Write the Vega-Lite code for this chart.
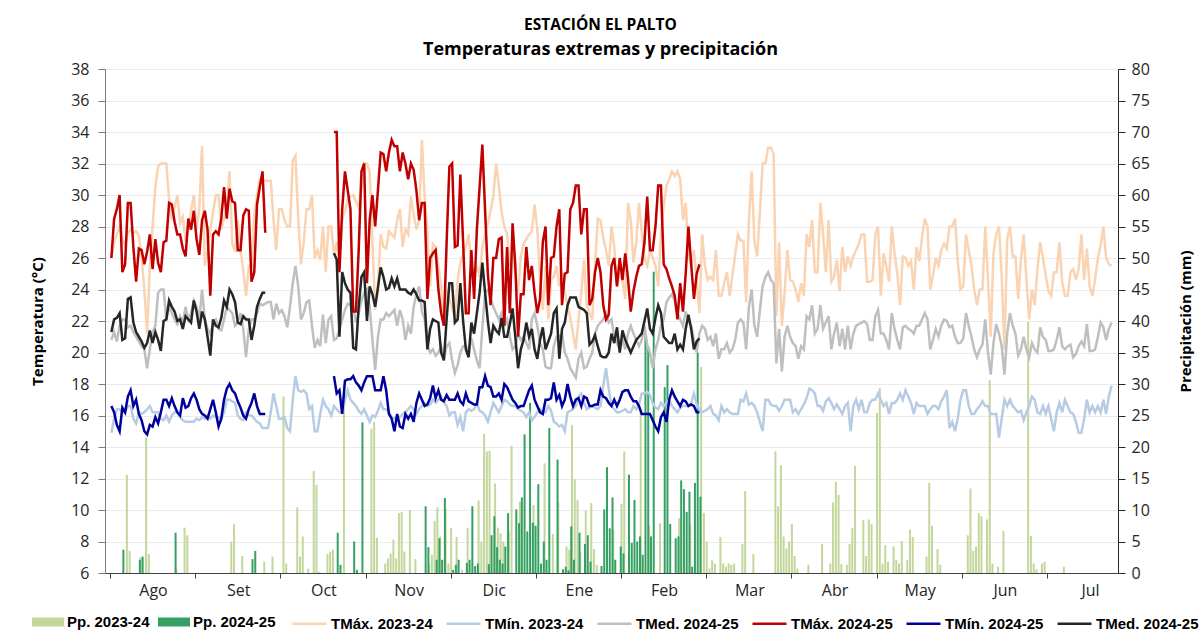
{
"$schema": "https://vega.github.io/schema/vega-lite/v6.json",
"width": 1013, "height": 504,
"autosize": {"type": "none"},
"padding": {"left": 105, "top": 69, "right": 82, "bottom": 69},
"background": "white",
"title": {"text": "ESTACIÓN EL PALTO", "subtitle": "Temperaturas extremas y precipitación", "anchor": "middle", "dx": -11, "font": "Open Sans", "fontSize": 15.5, "fontWeight": "bold", "color": "#000000", "subtitleFont": "Open Sans", "subtitleFontSize": 18, "subtitleFontWeight": "bold", "subtitleColor": "#000000", "subtitlePadding": 8, "offset": 2},
"data": {"values": [
{"d":1,"a":26,"b":14.9,"c":20.8,"e":26,"f":16.6,"g":21.3},
{"d":2,"a":27,"b":15.8,"c":21.3,"e":28.5,"f":16.2,"g":22.1},
{"d":3,"a":27.5,"b":16.4,"c":20.7,"e":29.1,"f":15.4,"g":22.2},
{"d":4,"a":28,"b":16.4,"c":21.7,"e":30,"f":15,"g":22.5},
{"d":5,"a":27.2,"b":16.2,"c":22.1,"e":25.1,"f":16.5,"g":20.8,"q":3.7},
{"d":6,"a":26.8,"b":16.2,"c":22.1,"e":25.6,"f":16.2,"g":20.9},
{"d":7,"a":27.6,"b":16.6,"c":21.6,"e":29.5,"f":17.2,"g":23.4,"p":15.6},
{"d":8,"a":27.8,"b":16.6,"c":21.7,"e":29.5,"f":17.6,"g":23.5,"p":3.5},
{"d":9,"a":27.6,"b":15.8,"c":21.3,"e":26.7,"f":16.6,"g":21.9},
{"d":10,"a":27.7,"b":15.5,"c":21,"e":24.5,"f":17,"g":21.3},
{"d":11,"a":27.4,"b":16.2,"c":20.7,"e":26.6,"f":16.1,"g":21,"q":2.1},
{"d":12,"a":26,"b":16.1,"c":20.4,"e":26.5,"f":15.7,"g":20.7,"p":2.5,"q":2.6},
{"d":13,"a":24,"b":16.2,"c":20.2,"e":25.6,"f":15,"g":20.3},
{"d":14,"a":21.2,"b":16.4,"c":19,"e":26.4,"f":14.8,"g":20.6,"p":21.5},
{"d":15,"a":25.5,"b":16.6,"c":20.2,"e":27.5,"f":15.4,"g":21.4,"p":3},
{"d":16,"a":28,"b":16.2,"c":21.3,"e":25.3,"f":15.3,"g":20.6},
{"d":17,"a":30.5,"b":16.2,"c":21.7,"e":27.2,"f":15.9,"g":21.3},
{"d":18,"a":31.8,"b":16.2,"c":23.8,"e":25.7,"f":15.5,"g":20.8},
{"d":19,"a":32,"b":15.8,"c":24,"e":25.1,"f":16.2,"g":20.1},
{"d":20,"a":32,"b":15.7,"c":24,"e":27,"f":17,"g":22},
{"d":21,"a":32,"b":16,"c":22.1,"e":27.1,"f":17,"g":22.1},
{"d":22,"a":29.7,"b":15.6,"c":22.9,"e":29.5,"f":16.6,"g":23.3},
{"d":23,"a":28.4,"b":16,"c":22.5,"e":29.4,"f":17.1,"g":22.9},
{"d":24,"a":29.2,"b":16.2,"c":22.1,"e":28.3,"f":16.6,"g":22.6,"q":6.4},
{"d":25,"a":30,"b":16.2,"c":21.8,"e":27.5,"f":16.2,"g":22,"p":0.7},
{"d":26,"a":28.2,"b":15.9,"c":22.3,"e":27.5,"f":16,"g":22.1},
{"d":27,"a":28.6,"b":15.7,"c":21.9,"e":26.6,"f":17.1,"g":21.5},
{"d":28,"a":27.1,"b":15.6,"c":22.9,"e":26.1,"f":16.5,"g":22.3,"p":7.2},
{"d":29,"a":27.8,"b":15.6,"c":22.1,"e":28.5,"f":16.6,"g":22.1,"p":6},
{"d":30,"a":29,"b":15.6,"c":22.5,"e":27.8,"f":17.1,"g":21.9},
{"d":31,"a":30,"b":15.6,"c":23.3,"e":29,"f":17.4,"g":23.3},
{"d":32,"a":27.8,"b":15.8,"c":22.9,"e":27.2,"f":17,"g":22.6},
{"d":33,"a":29.1,"b":15.7,"c":22.1,"e":26.2,"f":16.4,"g":21.5},
{"d":34,"a":33.1,"b":15.9,"c":24,"e":28.4,"f":16.1,"g":22.6},
{"d":35,"a":25.5,"b":15.8,"c":22.1,"e":29,"f":16,"g":22.1},
{"d":36,"a":26.5,"b":16,"c":21.5,"e":27.8,"f":15.8,"g":21},
{"d":37,"a":27.8,"b":15.8,"c":21.2,"e":23.6,"f":16.4,"g":19.8},
{"d":38,"a":28.9,"b":16,"c":21.9,"e":27.5,"f":17,"g":22.1},
{"d":39,"a":30,"b":15.9,"c":22.1,"e":27.7,"f":16.2,"g":21.7},
{"d":40,"a":30,"b":15.9,"c":21.5,"e":27.5,"f":15.3,"g":21.6},
{"d":41,"a":27.8,"b":15.8,"c":21.4,"e":28.5,"f":15.8,"g":22.2},
{"d":42,"a":28.5,"b":16.2,"c":22.1,"e":30.5,"f":17,"g":23.3},
{"d":43,"a":29.3,"b":17,"c":22.9,"e":28.5,"f":17.7,"g":22.9},
{"d":44,"a":31.5,"b":17,"c":22.7,"e":30.4,"f":18,"g":24},
{"d":45,"a":26.9,"b":16.9,"c":22.5,"e":29.6,"f":17.6,"g":23.7,"p":5},
{"d":46,"a":26.4,"b":16.8,"c":21.7,"e":29.5,"f":17.4,"g":23.2,"p":7.8},
{"d":47,"a":28.4,"b":16,"c":21.9,"e":26.5,"f":16.9,"g":21.9},
{"d":48,"a":26.5,"b":15.8,"c":22.5,"e":26.5,"f":16.5,"g":21.8},
{"d":49,"a":25.2,"b":15.7,"c":21.5,"e":28.7,"f":16,"g":22.3,"p":2.7},
{"d":50,"a":23.6,"b":16.2,"c":19.7,"e":29.1,"f":15.8,"g":22.1},
{"d":51,"a":25.5,"b":16,"c":21.5,"e":29,"f":16.4,"g":22.1},
{"d":52,"a":25.5,"b":16,"c":22.1,"e":24.5,"f":16.8,"g":20.8,"q":2.2},
{"d":53,"a":28.7,"b":15.8,"c":22.1,"e":25.1,"f":17.4,"g":21.7,"q":3.5},
{"d":54,"a":30,"b":15.6,"c":22.5,"e":29.4,"f":16.6,"g":22.9},
{"d":55,"a":31,"b":15.5,"c":23.1,"e":30.5,"f":16.1,"g":23.4},
{"d":56,"a":31,"b":15.2,"c":23,"e":31.5,"f":16.1,"g":23.8},
{"d":57,"a":30.9,"b":15.2,"c":23.1,"e":27.6,"f":16.1,"g":23.8,"p":1.8},
{"d":58,"a":30.9,"b":15.2,"c":23.2},
{"d":59,"a":30.9,"b":16.2,"c":23.2},
{"d":60,"a":28.4,"b":17.4,"c":22.1,"p":2.6},
{"d":61,"a":26.5,"b":16.6,"c":23.1},
{"d":62,"a":29.1,"b":15.8,"c":22.5},
{"d":63,"a":29.1,"b":15.8,"c":22.7},
{"d":64,"a":28.4,"b":15.9,"c":22.3,"p":28},
{"d":65,"a":28,"b":15.2,"c":21.6,"p":1.5},
{"d":66,"a":28,"b":15,"c":22.9},
{"d":67,"a":32.2,"b":17,"c":24.4},
{"d":68,"a":32.5,"b":18.5,"c":25.5},
{"d":69,"a":28.5,"b":17.6,"c":24.2,"p":10.4},
{"d":70,"a":25.6,"b":17.5,"c":22.1,"p":2.6},
{"d":71,"a":27,"b":17.6,"c":22.5,"p":5.8},
{"d":72,"a":29.1,"b":17.4,"c":23.2},
{"d":73,"a":29.1,"b":16.4,"c":23.3,"p":0.7},
{"d":74,"a":30,"b":16.6,"c":21.7},
{"d":75,"a":26,"b":15,"c":20.3,"p":16.2},
{"d":76,"a":26.5,"b":15,"c":20.8,"p":14},
{"d":77,"a":25.9,"b":16.1,"c":20.4,"p":0.2},
{"d":78,"a":28,"b":17,"c":22.4},
{"d":79,"a":25.1,"b":16.6,"c":20.6},
{"d":80,"a":28,"b":16.4,"c":22.1,"p":3},
{"d":81,"a":28,"b":16,"c":22.3,"p":3.4},
{"d":82,"a":26.2,"b":16.6,"c":20.8,"e":34,"f":18.5,"g":26.3,"p":3.7},
{"d":83,"a":27,"b":16.4,"c":20.9,"e":34,"f":17.4,"g":25.9,"q":6.4},
{"d":84,"a":25.5,"b":16.2,"c":21.5,"e":25.1,"f":17.6,"g":21,"q":1.3},
{"d":85,"a":28.4,"b":16.2,"c":22.1,"e":29.1,"f":16.1,"g":25.1},
{"d":86,"a":29,"b":17,"c":22.7,"e":31.5,"f":18.2,"g":24.4,"p":30},
{"d":87,"a":29.7,"b":17.6,"c":23.1,"e":30.3,"f":18.3,"g":24},
{"d":88,"a":29.9,"b":17,"c":23,"e":29.1,"f":18.3,"g":23.8},
{"d":89,"a":30,"b":16.8,"c":22.9,"e":22.6,"f":18.5,"g":20.3,"q":5},
{"d":90,"a":29.6,"b":16.6,"c":21.9,"e":22.6,"f":18.1,"g":20.2,"q":0.5},
{"d":91,"a":29.2,"b":16.3,"c":22.5,"e":26.5,"f":17.9,"g":22.9},
{"d":92,"a":30.5,"b":16.1,"c":23.3,"e":31.5,"f":17.6,"g":24.8,"q":23.9},
{"d":93,"a":32,"b":16.4,"c":23.8,"e":32,"f":18.1,"g":25.1},
{"d":94,"a":32,"b":16,"c":24,"e":24.4,"f":18.5,"g":22},
{"d":95,"a":31.5,"b":15.6,"c":22.9,"e":28.4,"f":18.5,"g":24.2},
{"d":96,"a":27,"b":16,"c":20.8,"e":30,"f":18.5,"g":23.7,"p":22.9},
{"d":97,"a":22.7,"b":15.9,"c":18.9,"e":28,"f":17.6,"g":22.9,"p":24},
{"d":98,"a":24.2,"b":16.3,"c":21,"e":30.3,"f":17.6,"g":24.1,"p":5.6},
{"d":99,"a":27.5,"b":16.8,"c":22.1,"e":32.7,"f":17.6,"g":25.4},
{"d":100,"a":26.7,"b":16.4,"c":22.1,"e":32.6,"f":18.5,"g":24.8},
{"d":101,"a":26.6,"b":16.4,"c":22.5,"e":31.5,"f":17.6,"g":24,"p":1.5},
{"d":102,"a":27.7,"b":16.2,"c":22.3,"e":32.7,"f":16.1,"g":24.1,"p":2.3},
{"d":103,"a":27.5,"b":15.9,"c":22.5,"e":33.5,"f":15.8,"g":24.7,"p":3.1},
{"d":104,"a":27.3,"b":15.8,"c":22.7,"e":33.1,"f":15,"g":24.2,"p":5.3},
{"d":105,"a":28.4,"b":15.9,"c":21.7,"e":33.1,"f":16.1,"g":24.7,"p":2.3},
{"d":106,"a":29.1,"b":15.9,"c":22.7,"e":31.5,"f":15.3,"g":24,"p":9.5},
{"d":107,"a":26.7,"b":16.1,"c":22.1,"e":32.7,"f":15.2,"g":24,"p":9.7},
{"d":108,"a":27.8,"b":16.2,"c":20.8,"e":32,"f":16.1,"g":24,"p":3.4},
{"d":109,"a":27.5,"b":16.4,"c":21.7,"e":31,"f":15.8,"g":23.8},
{"d":110,"a":29.9,"b":16.6,"c":21.2,"e":32,"f":16.1,"g":23.7,"p":10},
{"d":111,"a":28.8,"b":16.4,"c":22.9,"e":31.6,"f":15.6,"g":24},
{"d":112,"a":27.8,"b":16.1,"c":23.7,"e":30.3,"f":16.8,"g":23.7,"p":2.2},
{"d":113,"a":28.4,"b":16.4,"c":24.2,"e":28.4,"f":17.4,"g":23.3},
{"d":114,"a":33.5,"b":16.6,"c":22.6,"e":29.5,"f":17,"g":23.3},
{"d":115,"a":29.9,"b":16.8,"c":22.1,"e":29.5,"f":16.6,"g":23.2,"q":10.6},
{"d":116,"a":27.8,"b":16.6,"c":20.5,"e":23.4,"f":16.7,"g":20.2,"q":4.1},
{"d":117,"a":24.2,"b":16.7,"c":20,"e":26,"f":17.1,"g":21.5,"p":1.5},
{"d":118,"a":26.9,"b":17,"c":20.2,"e":26.3,"f":17.9,"g":22.1,"p":2.9},
{"d":119,"a":26.7,"b":16.8,"c":19.8,"e":26.5,"f":17.1,"g":22,"p":8.3,"q":2.1},
{"d":120,"a":25.5,"b":17,"c":20,"e":24,"f":17.6,"g":21.9,"p":10.4,"q":5.5},
{"d":121,"a":24.2,"b":17.2,"c":20.4,"e":22.5,"f":17,"g":20,"p":5.8,"q":2.1},
{"d":122,"a":22.1,"b":16.8,"c":19.6,"e":21.7,"f":16.9,"g":19.5,"q":11.9},
{"d":123,"a":23.8,"b":16.6,"c":20.4,"e":27,"f":17.3,"g":22.1,"p":10.3},
{"d":124,"a":23.4,"b":16,"c":20.6,"e":31.8,"f":17,"g":24.4,"p":1.5},
{"d":125,"a":22.8,"b":16.2,"c":19.5,"e":32,"f":17,"g":24.4,"p":7.1,"q":0.5},
{"d":126,"a":22.3,"b":16.2,"c":18.7,"e":26.7,"f":17,"g":21.9,"q":1.3},
{"d":127,"a":24.6,"b":15.4,"c":19.2,"e":26.8,"f":17.4,"g":22.1,"p":5.7,"q":2.1},
{"d":128,"a":25.7,"b":15.9,"c":20,"e":31.3,"f":16.9,"g":24.4},
{"d":129,"a":26.2,"b":15,"c":20.4,"e":27,"f":16.7,"g":22,"p":0.5},
{"d":130,"a":26.7,"b":16.2,"c":20.4,"e":22.5,"f":17.4,"g":20.2,"q":1.6},
{"d":131,"a":27.5,"b":16.4,"c":20,"e":22.5,"f":16.9,"g":19.7,"p":7.1,"q":2.1},
{"d":132,"a":25.5,"b":16.3,"c":20.9,"e":26.5,"f":16.8,"g":21.9,"q":10.6},
{"d":133,"a":24.8,"b":16.4,"c":20.2,"e":23.4,"f":16.7,"g":21.2,"q":1.1},
{"d":134,"a":25.5,"b":16.8,"c":19.5,"e":27.8,"f":16.7,"g":22.5,"q":1.5},
{"d":135,"a":24.8,"b":16.3,"c":19,"e":30.5,"f":17.8,"g":23.8,"p":11.5},
{"d":136,"a":26.7,"b":16.2,"c":21.6,"e":33.2,"f":17.8,"g":25.7,"p":5},
{"d":137,"a":27.5,"b":16,"c":23.8,"e":29,"f":18.5,"g":23.8,"p":22.1},
{"d":138,"a":28.2,"b":15.6,"c":24,"e":25,"f":17.9,"g":22,"p":19.3,"q":1.4},
{"d":139,"a":29,"b":16.2,"c":23.5,"e":23,"f":17.8,"g":20.6,"p":19.4,"q":6},
{"d":140,"a":29.9,"b":16.8,"c":22.9,"e":26,"f":17.2,"g":21.7,"q":9},
{"d":141,"a":32,"b":16.5,"c":22.5,"e":26,"f":17.2,"g":21.4,"p":14.2,"q":4.1},
{"d":142,"a":30.6,"b":16.2,"c":22.1,"e":27.2,"f":17.4,"g":21.2,"p":7.2,"q":2.1},
{"d":143,"a":28.9,"b":16.6,"c":22.5,"e":27.3,"f":17,"g":22.2,"p":6.3,"q":1.5},
{"d":144,"a":28,"b":17,"c":21.7,"e":21.7,"f":18,"g":21,"p":5,"q":4.2},
{"d":145,"a":27.5,"b":16.9,"c":22.1,"e":26.7,"f":17.8,"g":21,"q":9.5},
{"d":146,"a":25.5,"b":16.7,"c":21,"e":22.5,"f":17.4,"g":21.8,"p":6.6},
{"d":147,"a":26.3,"b":16.6,"c":20.2,"e":28.2,"f":17,"g":22.8,"p":20.2},
{"d":148,"a":25,"b":16.6,"c":20.4,"e":25.5,"f":16.8,"g":21,"q":10.1},
{"d":149,"a":23.8,"b":16.4,"c":21.2,"e":21,"f":16.5,"g":19,"q":7.9},
{"d":150,"a":26.1,"b":16.3,"c":20.8,"e":23.7,"f":16.6,"g":20.2,"p":11.3,"q":12},
{"d":151,"a":26.9,"b":16.2,"c":21,"e":23.7,"f":16.6,"g":20.8,"q":22},
{"d":152,"a":27.2,"b":15.9,"c":20.6,"e":26.7,"f":17.1,"g":21.9,"q":6.6},
{"d":153,"a":27.5,"b":16.2,"c":20.2,"e":24.6,"f":17.6,"g":21,"q":27},
{"d":154,"a":27.7,"b":15.7,"c":22.1,"e":25.5,"f":17.9,"g":21.5,"q":8},
{"d":155,"a":29.4,"b":15.9,"c":22.5,"e":23.8,"f":17,"g":20.2,"p":10.8,"q":7.5},
{"d":156,"a":27.8,"b":16.2,"c":21.7,"e":22.5,"f":16.6,"g":19.6,"q":14.1},
{"d":157,"a":24.6,"b":16.4,"c":20.6,"e":23.4,"f":16.2,"g":20.8,"q":1.5},
{"d":158,"a":22.7,"b":16.2,"c":20.2,"e":27,"f":16.1,"g":21.6,"q":5},
{"d":159,"a":25.5,"b":16.2,"c":19.1,"e":28,"f":17,"g":20.2,"p":17.4,"q":2.1},
{"d":160,"a":22.1,"b":16.6,"c":19,"e":23,"f":17,"g":20.7,"q":23},
{"d":161,"a":24.6,"b":16.3,"c":19,"e":26,"f":17.1,"g":21.2},
{"d":162,"a":24.8,"b":15.6,"c":20.4,"e":26.1,"f":18.1,"g":22.5,"p":6.2},
{"d":163,"a":25.5,"b":15.5,"c":21,"e":28,"f":17,"g":22.8,"q":18},
{"d":164,"a":24.2,"b":15.3,"c":21,"e":29.1,"f":17.3,"g":19.6,"p":11.2},
{"d":165,"a":25.1,"b":15.4,"c":21.2,"e":23,"f":16.6,"g":21.5,"q":0.6},
{"d":166,"a":23.8,"b":15,"c":20,"e":25,"f":17,"g":21.9,"q":1},
{"d":167,"a":23,"b":16.2,"c":19.6,"e":25.1,"f":18,"g":23,"p":4.2,"q":0.4},
{"d":168,"a":22.2,"b":16.3,"c":19,"e":29.1,"f":17.2,"g":23.5,"p":3.7,"q":7.4},
{"d":169,"a":21.2,"b":16.4,"c":18.7,"e":29.5,"f":16.6,"g":23.5,"p":23.5,"q":2.1},
{"d":170,"a":20.2,"b":16.6,"c":18.4,"e":30.6,"f":17,"g":23.5,"p":14.9},
{"d":171,"a":22.1,"b":17.2,"c":19.6,"e":30.6,"f":17.1,"g":22.9,"p":11.6,"q":6.4},
{"d":172,"a":23.8,"b":17.4,"c":20,"e":27.5,"f":16.6,"g":22.8,"p":3.4},
{"d":173,"a":25.9,"b":16.8,"c":19,"e":29.1,"f":17.2,"g":22.7,"q":4.6},
{"d":174,"a":23,"b":16.4,"c":19.1,"e":29.1,"f":17.1,"g":22.5,"p":9.9,"q":6},
{"d":175,"a":22.5,"b":16.5,"c":19.6,"e":23,"f":16.6,"g":20.5,"q":1.8},
{"d":176,"a":22.1,"b":16.6,"c":20,"e":23.4,"f":16.6,"g":20.7,"p":11.1},
{"d":177,"a":25.5,"b":16.5,"c":21.2,"e":25.1,"f":16.7,"g":21.1,"p":3.8},
{"d":178,"a":28.5,"b":16.4,"c":21.7,"e":26,"f":16.7,"g":20.4,"p":1.3},
{"d":179,"a":28.4,"b":16.6,"c":21.9,"e":25.1,"f":17.6,"g":19.8,"q":1.1},
{"d":180,"a":27.3,"b":17.9,"c":22.1,"e":23,"f":17.2,"g":19.7,"q":10.1},
{"d":181,"a":26.5,"b":19,"c":22.5,"e":22.1,"f":17.1,"g":19.7,"q":16.8},
{"d":182,"a":25.5,"b":17.7,"c":21.9,"e":22.4,"f":16.8,"g":20,"q":7.1},
{"d":183,"a":28,"b":16.6,"c":22.1,"e":25.5,"f":16.6,"g":21.2,"q":12},
{"d":184,"a":26.7,"b":16.4,"c":21,"e":26,"f":17,"g":20.6,"p":6.8,"q":2.1},
{"d":185,"a":24.2,"b":16.2,"c":20.6,"e":24.2,"f":16.6,"g":21.6},
{"d":186,"a":25.1,"b":16.2,"c":20.2,"e":26,"f":17,"g":20,"q":4.2},
{"d":187,"a":24.5,"b":16.3,"c":20.8,"e":24.6,"f":17.5,"g":21.4,"p":11,"q":3.1},
{"d":188,"a":23.4,"b":16.4,"c":20.2,"e":26.3,"f":17.6,"g":20.8,"p":19.3},
{"d":189,"a":29.5,"b":16.2,"c":21.2,"e":24.7,"f":17.6,"g":20.4,"q":15.6},
{"d":190,"a":28.4,"b":16.2,"c":21.7,"e":22.6,"f":17.2,"g":20,"q":4.8},
{"d":191,"a":25.7,"b":16.6,"c":21.2,"e":23.9,"f":16.9,"g":20.4,"q":11.6},
{"d":192,"a":27,"b":16.4,"c":20.8,"e":24.8,"f":16.9,"g":20.8,"q":5},
{"d":193,"a":29.5,"b":16.7,"c":20.4,"e":25.5,"f":16.6,"g":21,"q":5.8},
{"d":194,"a":27.7,"b":17.4,"c":20.8,"e":25.6,"f":16.1,"g":21.2,"p":26,"q":2.9},
{"d":195,"a":25.9,"b":17.4,"c":21.7,"e":27,"f":16.1,"g":22,"q":38},
{"d":196,"a":25.5,"b":17.5,"c":20.5,"e":29.9,"f":16.1,"g":22.8,"q":36},
{"d":197,"a":26.5,"b":17.3,"c":20,"e":26.5,"f":16.1,"g":21.5,"p":7.5,"q":5.8},
{"d":198,"a":26,"b":16.8,"c":19,"e":26.5,"f":15.7,"g":21.2,"q":47.8},
{"d":199,"a":25.5,"b":16.5,"c":20.2,"e":28,"f":15.3,"g":22.2},
{"d":200,"a":24.2,"b":16.4,"c":20.8,"e":30.6,"f":15,"g":23},
{"d":201,"a":27.6,"b":16.8,"c":21.7,"e":30.6,"f":15.9,"g":22.5,"p":7.9},
{"d":202,"a":29.3,"b":16.6,"c":22.1,"e":25.6,"f":16.2,"g":21,"q":29.5},
{"d":203,"a":30.6,"b":16.8,"c":23.2,"e":25.3,"f":15.6,"g":20.8,"q":33},
{"d":204,"a":31,"b":17,"c":23.5,"e":24.7,"f":17,"g":20.6,"q":7.8},
{"d":205,"a":31.5,"b":16.6,"c":23.7,"e":24.2,"f":17.6,"g":20.6},
{"d":206,"a":31.2,"b":16.4,"c":23.3,"e":23.6,"f":17.2,"g":21.2,"q":5.5},
{"d":207,"a":31.5,"b":16.2,"c":22.5,"e":22.1,"f":16.9,"g":20.2,"q":5.8},
{"d":208,"a":31,"b":16.5,"c":22.1,"e":24.4,"f":16.6,"g":20.5,"p":8.7,"q":14.7},
{"d":209,"a":28.4,"b":16.6,"c":21.7,"e":22.6,"f":17,"g":20.2,"q":13.3},
{"d":210,"a":29.5,"b":16.6,"c":22.6,"e":25,"f":16.9,"g":21.5,"q":9.7},
{"d":211,"a":26.3,"b":16.6,"c":22,"e":28,"f":16.6,"g":22.4,"q":12.9},
{"d":212,"a":25.5,"b":16.8,"c":21.7,"e":25.6,"f":16.7,"g":21.5,"p":7.8,"q":1},
{"d":213,"a":26.5,"b":17.4,"c":20.8,"e":23.4,"f":16.6,"g":20.2,"q":14.3},
{"d":214,"a":24.5,"b":16.7,"c":20,"e":25,"f":16.2,"g":20.7,"q":35},
{"d":215,"a":22.5,"b":16.4,"c":21.2,"e":25.6,"f":16.2,"g":20.9,"q":12.1},
{"d":216,"a":27.5,"b":16.2,"c":21.7,"p":32.7},
{"d":217,"a":25.5,"b":16.3,"c":21.5,"p":9.5},
{"d":218,"a":24.6,"b":16.4,"c":20.8,"p":5},
{"d":219,"a":24.8,"b":16.6,"c":21,"p":0.7},
{"d":220,"a":24.6,"b":16.1,"c":20.4,"p":2},
{"d":221,"a":26.5,"b":16,"c":21.2,"p":1.5},
{"d":222,"a":23.6,"b":15.7,"c":19.6},
{"d":223,"a":23.6,"b":16.6,"c":20.2,"p":5.7},
{"d":224,"a":24.4,"b":16.2,"c":20.2,"p":1.5},
{"d":225,"a":25.1,"b":16.4,"c":20.6,"p":1},
{"d":226,"a":23.6,"b":16.2,"c":20,"p":1.5},
{"d":227,"a":24.9,"b":16.1,"c":20.2,"p":1.3},
{"d":228,"a":26.2,"b":16.1,"c":20.8,"p":1.5},
{"d":229,"a":27.5,"b":16.1,"c":21.9},
{"d":230,"a":27.1,"b":17,"c":22.1},
{"d":231,"a":27.1,"b":16.9,"c":21.9,"p":4.6},
{"d":232,"a":23.2,"b":17.4,"c":20.2,"p":13},
{"d":233,"a":28.4,"b":16.7,"c":22.9},
{"d":234,"a":31.5,"b":16.8,"c":24},
{"d":235,"a":27.1,"b":16.6,"c":21.7,"p":3},
{"d":236,"a":26.1,"b":16.2,"c":21},
{"d":237,"a":28.9,"b":15.6,"c":22.7},
{"d":238,"a":32,"b":15,"c":24.2},
{"d":239,"a":32,"b":17,"c":24.8},
{"d":240,"a":33,"b":17,"c":25.1},
{"d":241,"a":33,"b":16.7,"c":24.6},
{"d":242,"a":32.6,"b":16.6,"c":24.4},
{"d":243,"a":22.3,"b":16.6,"c":19.3,"p":19.3},
{"d":244,"a":27,"b":16.3,"c":21.5,"p":10.6},
{"d":245,"a":21.7,"b":16.6,"c":18.8,"p":17.1},
{"d":246,"a":23.8,"b":17,"c":21,"p":5.8},
{"d":247,"a":26.5,"b":17,"c":21.7,"p":3.9},
{"d":248,"a":24.6,"b":17,"c":21,"p":5},
{"d":249,"a":24.5,"b":16.2,"c":20.6,"p":7.8},
{"d":250,"a":24,"b":16.4,"c":20.4,"p":2.7},
{"d":251,"a":23.2,"b":16.1,"c":19.6,"p":0.7},
{"d":252,"a":24.4,"b":16.4,"c":20.4},
{"d":253,"a":23.6,"b":16.7,"c":20.2},
{"d":254,"a":27.5,"b":17.1,"c":22.3},
{"d":255,"a":26.7,"b":17.7,"c":22.1,"p":1.3},
{"d":256,"a":28.4,"b":17.6,"c":23},
{"d":257,"a":25.1,"b":17.4,"c":21.2},
{"d":258,"a":25.1,"b":16.6,"c":21.5},
{"d":259,"a":29.5,"b":16.6,"c":23},
{"d":260,"a":27.5,"b":16.3,"c":21.5,"p":4.6},
{"d":261,"a":25.1,"b":16.9,"c":21.9},
{"d":262,"a":28.4,"b":17.1,"c":22.3},
{"d":263,"a":24.5,"b":16.8,"c":20.2,"p":1.5},
{"d":264,"a":24.8,"b":16.4,"c":21.2,"p":11.2},
{"d":265,"a":25.9,"b":16.7,"c":21.9,"p":14.5},
{"d":266,"a":23.9,"b":16.4,"c":20.4,"p":12.4},
{"d":267,"a":26.7,"b":16.1,"c":21.5,"p":1.4},
{"d":268,"a":25.1,"b":16.6,"c":20.2},
{"d":269,"a":26.1,"b":16.8,"c":21.7,"p":1.3},
{"d":270,"a":25.5,"b":15,"c":20.2,"p":4.6},
{"d":271,"a":26.1,"b":16.6,"c":21.2,"p":7.1},
{"d":272,"a":26.5,"b":17,"c":21.7,"p":17},
{"d":273,"a":26.9,"b":16.4,"c":21.8},
{"d":274,"a":27.5,"b":17,"c":21.9},
{"d":275,"a":27.5,"b":16.2,"c":22,"p":8.4},
{"d":276,"a":24.5,"b":16.2,"c":21.8,"p":2.7},
{"d":277,"a":24.5,"b":16.8,"c":20.8,"p":8.5},
{"d":278,"a":24.6,"b":17,"c":20.8,"p":7.8},
{"d":279,"a":27.5,"b":17,"c":22.3},
{"d":280,"a":28,"b":17.4,"c":22.7,"p":25.4},
{"d":281,"a":23.6,"b":17,"c":21.2,"p":29.4},
{"d":282,"a":26.3,"b":16.6,"c":21.2,"p":1.5},
{"d":283,"a":25.5,"b":16.8,"c":20.8,"p":4.4},
{"d":284,"a":24.5,"b":16.1,"c":20.2,"p":1.8},
{"d":285,"a":28,"b":16.8,"c":22.5},
{"d":286,"a":26.3,"b":16.8,"c":21.5,"p":4.2},
{"d":287,"a":25,"b":17,"c":20.8,"p":2.1},
{"d":288,"a":23,"b":17.4,"c":20.2,"p":1.5},
{"d":289,"a":26.1,"b":17,"c":21.6,"p":5.1},
{"d":290,"a":26,"b":17.6,"c":21.7},
{"d":291,"a":25.5,"b":17.2,"c":21.5,"p":2.1},
{"d":292,"a":25.8,"b":16.8,"c":21.4,"p":6.9},
{"d":293,"a":24,"b":16.1,"c":21.2,"p":5.7},
{"d":294,"a":26.7,"b":16.8,"c":21.7},
{"d":295,"a":25.8,"b":16.6,"c":21.7},
{"d":296,"a":27.3,"b":16.6,"c":22.1},
{"d":297,"a":28.5,"b":16.6,"c":22.5},
{"d":298,"a":28,"b":16.1,"c":22.1,"p":2.6},
{"d":299,"a":24,"b":16.4,"c":20.2,"p":14.3},
{"d":300,"a":24.9,"b":16.6,"c":20.8,"p":7.5},
{"d":301,"a":26,"b":16.6,"c":21.5},
{"d":302,"a":25.5,"b":16.4,"c":21,"p":3.8},
{"d":303,"a":26.5,"b":16.9,"c":21.7,"p":1.3},
{"d":304,"a":26.9,"b":17.2,"c":22.1},
{"d":305,"a":26.6,"b":17.6,"c":22},
{"d":306,"a":28,"b":15.2,"c":21.6},
{"d":307,"a":28,"b":15.6,"c":21.7},
{"d":308,"a":28.5,"b":15,"c":21},
{"d":309,"a":25.8,"b":15.8,"c":20.6},
{"d":310,"a":24,"b":17,"c":20.6},
{"d":311,"a":24.2,"b":17.6,"c":20.9},
{"d":312,"a":27.5,"b":17.6,"c":22.5},
{"d":313,"a":26.5,"b":16.6,"c":21.7,"p":6},
{"d":314,"a":25.5,"b":16.1,"c":21,"p":13.4},
{"d":315,"a":24,"b":16.1,"c":20.2,"p":3.5},
{"d":316,"a":23,"b":16.4,"c":19.7,"p":4.2},
{"d":317,"a":24,"b":16.6,"c":20.2,"p":9.5},
{"d":318,"a":24,"b":16.9,"c":20.5,"p":9},
{"d":319,"a":28,"b":16.6,"c":22.1},
{"d":320,"a":24.7,"b":16.6,"c":20,"p":8.5},
{"d":321,"a":21,"b":16.1,"c":18.6,"p":30.6},
{"d":322,"a":26.3,"b":16.1,"c":20.6,"p":1.5},
{"d":323,"a":27.5,"b":16.1,"c":21.8},
{"d":324,"a":28,"b":14.6,"c":21.2,"p":1},
{"d":325,"a":24.8,"b":15.8,"c":20.4},
{"d":326,"a":20.2,"b":17,"c":18.6,"p":6.7},
{"d":327,"a":27.2,"b":16.6,"c":21.2},
{"d":328,"a":28,"b":17,"c":22.5},
{"d":329,"a":26.1,"b":16.6,"c":21.7},
{"d":330,"a":26.1,"b":16.4,"c":21.2},
{"d":331,"a":23.4,"b":16.2,"c":19.8},
{"d":332,"a":25.9,"b":16.3,"c":20.2},
{"d":333,"a":27.5,"b":15.7,"c":21},
{"d":334,"a":24.6,"b":16.2,"c":20.2},
{"d":335,"a":22.1,"b":16.6,"c":19.7,"p":39.9},
{"d":336,"a":24,"b":17.2,"c":20.6,"p":5.9},
{"d":337,"a":23,"b":17,"c":20.2,"p":1.5},
{"d":338,"a":25.3,"b":16.2,"c":20,"p":0.6},
{"d":339,"a":27,"b":16.1,"c":21.6},
{"d":340,"a":26,"b":16.6,"c":21,"p":1.5},
{"d":341,"a":24.9,"b":16.1,"c":20.8,"p":1.8},
{"d":342,"a":23.9,"b":16.6,"c":20.1},
{"d":343,"a":23.6,"b":15.8,"c":20.1},
{"d":344,"a":25.1,"b":15,"c":20.2},
{"d":345,"a":25.1,"b":16.2,"c":20.8},
{"d":346,"a":27,"b":16.8,"c":21.6},
{"d":347,"a":24.5,"b":16.2,"c":20.4},
{"d":348,"a":23.6,"b":17,"c":20.2,"p":1},
{"d":349,"a":23.6,"b":16.6,"c":20.4},
{"d":350,"a":25.1,"b":16.2,"c":20.5},
{"d":351,"a":25.3,"b":16.1,"c":19.7},
{"d":352,"a":24.6,"b":15.6,"c":19.9},
{"d":353,"a":25.3,"b":14.9,"c":20.4},
{"d":354,"a":27.5,"b":14.9,"c":20.7},
{"d":355,"a":24.6,"b":15.8,"c":20.4},
{"d":356,"a":26.6,"b":17,"c":21.8},
{"d":357,"a":24.2,"b":16.2,"c":20.1},
{"d":358,"a":23.6,"b":16.6,"c":20.1},
{"d":359,"a":24.7,"b":16.2,"c":20.2},
{"d":360,"a":26,"b":16.6,"c":21},
{"d":361,"a":26.8,"b":16.2,"c":21.9},
{"d":362,"a":28,"b":17,"c":21.6},
{"d":363,"a":26,"b":16.1,"c":20.8},
{"d":364,"a":25.6,"b":17.2,"c":21.5},
{"d":365,"a":25.5,"b":17.9,"c":21.9}
]},
"encoding": {
  "x": {"field": "d", "type": "quantitative",
    "scale": {"domain": [0.5, 365.5], "nice": false, "zero": false},
    "axis": {"values": [0.5, 31.5, 62.5, 93.5, 124.5, 155.5, 186.5, 217.5, 248.5, 279.5, 310.5, 341.5],
      "labelExpr": "['Ago','Set','Oct','Nov','Dic','Ene','Feb','Mar','Abr','May','Jun','Jul'][floor(datum.value / 31)]",
      "labelOffset": 43, "labelFlush": false, "labelOverlap": false, "labelBound": false,
      "grid": false, "tickSize": 5, "labelPadding": 4, "title": null, "labelFontSize": 16,
      "domainColor": "#404040", "tickColor": "#404040"}}
},
"layer": [
  {"encoding": {
     "y": {"field": "p", "type": "quantitative", "title": "Precipitación (mm)",
       "scale": {"domain": [0, 80], "nice": false, "zero": true},
       "axis": {"orient": "right", "values": [0,5,10,15,20,25,30,35,40,45,50,55,60,65,70,75,80], "tickCount": 17, "labelOverlap": false, "grid": false, "tickSize": 7, "labelPadding": 6, "titlePadding": 44, "titleAngle": 270, "domainColor": "#262626", "tickColor": "#262626"}}
   },
   "layer": [
    {"mark": {"type": "bar", "size": 2, "xOffset": -1},
     "encoding": {
       "fill": {"datum": "Pp. 2023-24", "type": "nominal",
         "scale": {"domain": ["Pp. 2023-24", "Pp. 2024-25"], "range": ["#c3d69b", "#35a063"]},
         "legend": {"orient": "none", "legendX": -73, "legendY": 537, "direction": "horizontal", "title": null,
           "symbolType": "M-1,-0.28H1V0.28H-1Z", "symbolSize": 1024, "symbolStrokeWidth": 0,
           "labelFont": "Liberation Sans", "labelFontSize": 15, "labelFontWeight": "bold", "labelColor": "#000000",
           "columnPadding": 8, "labelOffset": 3}}
     }},
    {"mark": {"type": "bar", "size": 2, "xOffset": 1},
     "encoding": {
       "y": {"field": "q", "type": "quantitative", "title": "Precipitación (mm)",
         "scale": {"domain": [0, 80], "nice": false, "zero": true},
         "axis": {"orient": "right", "values": [0,5,10,15,20,25,30,35,40,45,50,55,60,65,70,75,80], "tickCount": 17, "labelOverlap": false, "grid": false, "tickSize": 7, "labelPadding": 6, "titlePadding": 44, "titleAngle": 270, "domainColor": "#262626", "tickColor": "#262626"}},
       "fill": {"datum": "Pp. 2024-25", "type": "nominal"}
     }}
  ]},
  {"encoding": {
     "y": {"field": "a", "type": "quantitative", "title": "Temperatura (°C)",
       "scale": {"domain": [6, 38], "nice": false, "zero": false},
       "axis": {"orient": "left", "values": [6,8,10,12,14,16,18,20,22,24,26,28,30,32,34,36,38], "tickCount": 17, "labelOverlap": false, "grid": true, "gridColor": "#ebebeb", "tickSize": 7, "labelPadding": 9, "titlePadding": 25}}
   },
   "layer": [
    {"mark": {"type": "line", "strokeWidth": 2.5},
     "encoding": {
       "stroke": {"datum": "TMáx. 2023-24", "type": "nominal",
         "scale": {"domain": ["TMáx. 2023-24", "TMín. 2023-24", "TMed. 2023-24", "TMáx. 2024-25", "TMín. 2024-25", "TMed. 2024-25"],
                   "range": ["#fad3b2", "#b7cbe5", "#bfbfbf", "#c00000", "#00009c", "#262626"]},
         "legend": {"orient": "none", "legendX": 186, "legendY": 536, "direction": "horizontal", "title": null,
           "symbolType": "stroke", "symbolSize": 1156, "symbolStrokeWidth": 2.5,
           "labelFont": "Liberation Sans", "labelFontSize": 15, "labelFontWeight": "bold", "labelColor": "#000000",
           "columnPadding": 8, "labelOffset": 3, "labelLimit": 300,
           "labelExpr": "datum.label == 'TMed. 2023-24' ? 'TMed. 2024-25' : datum.label"}}
     }},
    {"mark": {"type": "line", "strokeWidth": 2.5},
     "encoding": {"y": {"field": "b", "type": "quantitative", "title": "Temperatura (°C)", "axis": {"orient": "left", "values": [6,8,10,12,14,16,18,20,22,24,26,28,30,32,34,36,38], "tickCount": 17, "labelOverlap": false, "grid": true, "gridColor": "#ebebeb", "tickSize": 7, "labelPadding": 9, "titlePadding": 25}}, "stroke": {"datum": "TMín. 2023-24", "type": "nominal"}}},
    {"mark": {"type": "line", "strokeWidth": 2.5},
     "encoding": {"y": {"field": "c", "type": "quantitative", "title": "Temperatura (°C)", "axis": {"orient": "left", "values": [6,8,10,12,14,16,18,20,22,24,26,28,30,32,34,36,38], "tickCount": 17, "labelOverlap": false, "grid": true, "gridColor": "#ebebeb", "tickSize": 7, "labelPadding": 9, "titlePadding": 25}}, "stroke": {"datum": "TMed. 2023-24", "type": "nominal"}}},
    {"transform": [{"filter": "datum.d < 70"}], "mark": {"type": "line", "strokeWidth": 2.5},
     "encoding": {"y": {"field": "e", "type": "quantitative", "title": "Temperatura (°C)", "axis": {"orient": "left", "values": [6,8,10,12,14,16,18,20,22,24,26,28,30,32,34,36,38], "tickCount": 17, "labelOverlap": false, "grid": true, "gridColor": "#ebebeb", "tickSize": 7, "labelPadding": 9, "titlePadding": 25}}, "stroke": {"datum": "TMáx. 2024-25", "type": "nominal"}}},
    {"transform": [{"filter": "datum.d > 70"}], "mark": {"type": "line", "strokeWidth": 2.5},
     "encoding": {"y": {"field": "e", "type": "quantitative", "title": "Temperatura (°C)", "axis": {"orient": "left", "values": [6,8,10,12,14,16,18,20,22,24,26,28,30,32,34,36,38], "tickCount": 17, "labelOverlap": false, "grid": true, "gridColor": "#ebebeb", "tickSize": 7, "labelPadding": 9, "titlePadding": 25}}, "stroke": {"datum": "TMáx. 2024-25", "type": "nominal"}}},
    {"transform": [{"filter": "datum.d < 70"}], "mark": {"type": "line", "strokeWidth": 2.5},
     "encoding": {"y": {"field": "f", "type": "quantitative", "title": "Temperatura (°C)", "axis": {"orient": "left", "values": [6,8,10,12,14,16,18,20,22,24,26,28,30,32,34,36,38], "tickCount": 17, "labelOverlap": false, "grid": true, "gridColor": "#ebebeb", "tickSize": 7, "labelPadding": 9, "titlePadding": 25}}, "stroke": {"datum": "TMín. 2024-25", "type": "nominal"}}},
    {"transform": [{"filter": "datum.d > 70"}], "mark": {"type": "line", "strokeWidth": 2.5},
     "encoding": {"y": {"field": "f", "type": "quantitative", "title": "Temperatura (°C)", "axis": {"orient": "left", "values": [6,8,10,12,14,16,18,20,22,24,26,28,30,32,34,36,38], "tickCount": 17, "labelOverlap": false, "grid": true, "gridColor": "#ebebeb", "tickSize": 7, "labelPadding": 9, "titlePadding": 25}}, "stroke": {"datum": "TMín. 2024-25", "type": "nominal"}}},
    {"transform": [{"filter": "datum.d < 70"}], "mark": {"type": "line", "strokeWidth": 2.5},
     "encoding": {"y": {"field": "g", "type": "quantitative", "title": "Temperatura (°C)", "axis": {"orient": "left", "values": [6,8,10,12,14,16,18,20,22,24,26,28,30,32,34,36,38], "tickCount": 17, "labelOverlap": false, "grid": true, "gridColor": "#ebebeb", "tickSize": 7, "labelPadding": 9, "titlePadding": 25}}, "stroke": {"datum": "TMed. 2024-25", "type": "nominal"}}},
    {"transform": [{"filter": "datum.d > 70"}], "mark": {"type": "line", "strokeWidth": 2.5},
     "encoding": {"y": {"field": "g", "type": "quantitative", "title": "Temperatura (°C)", "axis": {"orient": "left", "values": [6,8,10,12,14,16,18,20,22,24,26,28,30,32,34,36,38], "tickCount": 17, "labelOverlap": false, "grid": true, "gridColor": "#ebebeb", "tickSize": 7, "labelPadding": 9, "titlePadding": 25}}, "stroke": {"datum": "TMed. 2024-25", "type": "nominal"}}}
  ]}
],
"resolve": {"scale": {"y": "independent"}},
"config": {
  "view": {"stroke": "#a6a6a6", "strokeWidth": 1},
  "axis": {"labelFont": "Open Sans", "labelFontSize": 16, "labelColor": "#262626", "titleFont": "Open Sans", "titleFontSize": 15, "titleFontWeight": "bold", "titleColor": "#000000", "domainColor": "#7f7f7f", "tickColor": "#7f7f7f"}
}
}
